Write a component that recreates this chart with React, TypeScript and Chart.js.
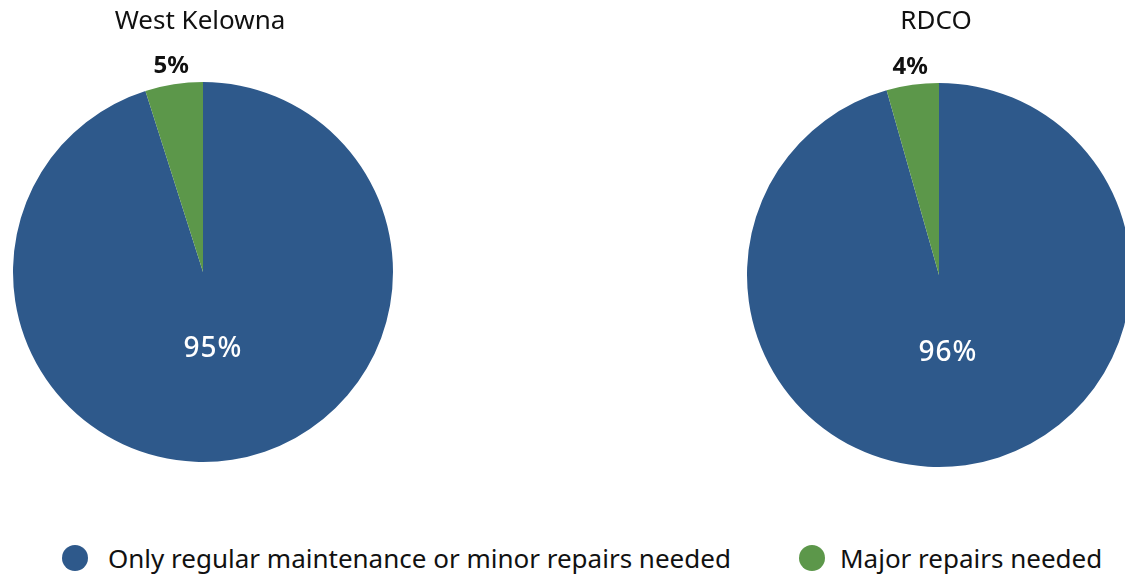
import React, { useEffect, useRef } from "react";
import { Chart, registerables } from "chart.js";

Chart.register(...registerables);

const categories = ["Only regular maintenance or minor repairs needed", "Major repairs needed"];
const westKelownaValues = [95.1, 4.9];
const rdcoValues = [95.6, 4.4];
const westKelownaLabels = ["95%", "5%"];
const rdcoLabels = ["96%", "4%"];
const colors = ["#2E598B", "#5C974A"];
const FONT = "'Noto Sans', Lato, sans-serif";

function makeLabelPlugin(title: string, labels: string[]) {
  return {
    id: "pieLabels",
    afterDatasetsDraw(chart: any) {
      const ctx = chart.ctx;
      const meta = chart.getDatasetMeta(0);
      ctx.save();
      ctx.textAlign = "center";
      ctx.textBaseline = "middle";
      let cx = 0;
      meta.data.forEach((arc: any, i: number) => {
        const { x, y, startAngle, endAngle, outerRadius } = arc.getProps(
          ["x", "y", "startAngle", "endAngle", "outerRadius"],
          true
        );
        cx = x;
        const mid = (startAngle + endAngle) / 2;
        if (i === 0) {
          const d = outerRadius * 0.41;
          ctx.fillStyle = "#ffffff";
          ctx.font = `500 28px ${FONT}`;
          (ctx as any).letterSpacing = "1px";
          ctx.fillText(labels[i], x + Math.cos(mid) * d - 2, y + Math.sin(mid) * d);
          (ctx as any).letterSpacing = "0px";
        } else {
          const d = outerRadius + 17;
          ctx.fillStyle = "#111111";
          ctx.font = `bold 24px ${FONT}`;
          ctx.fillText(labels[i], x + Math.cos(mid) * d, y + Math.sin(mid) * d - 1);
        }
      });
      ctx.fillStyle = "#111111";
      ctx.font = `normal 26px ${FONT}`;
      ctx.fillText(title, cx - 3, 22);
      ctx.restore();
    },
  };
}

function PieChart(props: {
  values: number[];
  labels: string[];
  title: string;
  left: number;
  width: number;
  height: number;
  padding: { left: number; right: number; top: number; bottom: number };
}) {
  const ref = useRef<HTMLCanvasElement>(null);
  useEffect(() => {
    if (!ref.current) return;
    const chart = new Chart(ref.current, {
      type: "pie",
      data: {
        labels: categories,
        datasets: [
          {
            data: props.values,
            backgroundColor: colors,
            borderWidth: 0,
          },
        ],
      },
      options: {
        animation: false,
        responsive: false,
        maintainAspectRatio: false,
        layout: { padding: props.padding },
        plugins: {
          legend: { display: false },
          tooltip: { enabled: false },
          title: { display: false },
        },
      },
      plugins: [makeLabelPlugin(props.title, props.labels)],
    });
    return () => chart.destroy();
  }, []);
  return (
    <canvas
      ref={ref}
      width={props.width}
      height={props.height}
      style={{ position: "absolute", left: props.left, top: 0, width: props.width, height: props.height }}
    />
  );
}

export default function App() {
  return (
    <div
      style={{
        position: "fixed",
        left: 0,
        top: 0,
        width: 1125,
        height: 575,
        overflow: "hidden",
        background: "#ffffff",
        fontFamily: FONT,
      }}
    >
      <PieChart
        values={westKelownaValues}
        labels={westKelownaLabels}
        title="West Kelowna"
        left={0}
        width={406}
        height={480}
        padding={{ left: 13, right: 13, top: 82, bottom: 18 }}
      />
      <PieChart
        values={rdcoValues}
        labels={rdcoLabels}
        title="RDCO"
        left={737}
        width={404}
        height={480}
        padding={{ left: 10, right: 10, top: 83, bottom: 13 }}
      />
      {categories.map((c, i) => (
        <div
          key={c}
          style={{
            position: "absolute",
            left: i === 0 ? 62 : 799,
            top: 542,
            height: 32,
            display: "flex",
            alignItems: "center",
            whiteSpace: "nowrap",
            fontSize: 26,
            color: "#111111",
          }}
        >
          <span
            style={{
              display: "inline-block",
              width: 26,
              height: 26,
              borderRadius: 13,
              background: colors[i],
              marginRight: i === 0 ? 20 : 15,
            }}
          />
          <span>{c}</span>
        </div>
      ))}
    </div>
  );
}
